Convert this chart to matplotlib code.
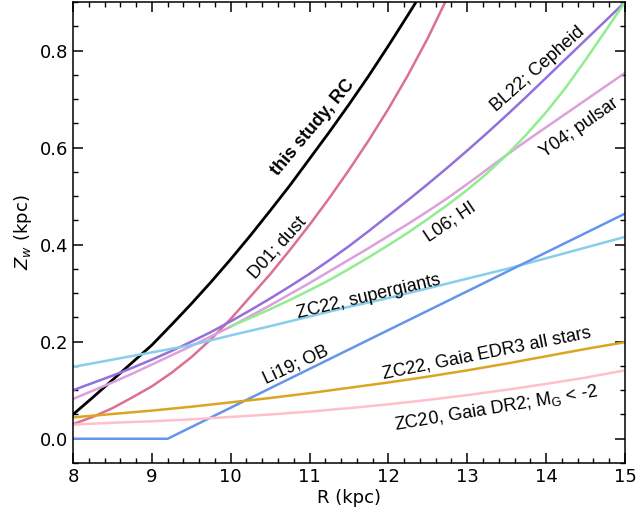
import numpy as np
import matplotlib
matplotlib.use("Agg")
import matplotlib.pyplot as plt
from matplotlib.ticker import MultipleLocator, FormatStrFormatter

# warp amplitude Z_w (kpc) vs galactocentric radius R (kpc)
R_q = [8.0, 8.25, 8.5, 8.75, 9.0, 9.25, 9.5, 9.75, 10.0, 10.25, 10.5, 10.75, 11.0, 11.25,
       11.5, 11.75, 12.0, 12.25, 12.5, 12.75, 13.0, 13.25, 13.5, 13.75, 14.0, 14.25,
       14.5, 14.75, 15.0]
R_h = [8.0, 8.5, 9.0, 9.5, 10.0, 10.5, 11.0, 11.5, 12.0, 12.5, 13.0, 13.5, 14.0, 14.5, 15.0]

rc_R = [8.0, 8.25, 8.5, 8.75, 9.0, 9.25, 9.5, 9.75, 10.0, 10.25, 10.5, 10.75, 11.0, 11.25,
        11.5, 11.75, 12.0, 12.25, 12.35]
rc_Z = [0.050, 0.085, 0.121, 0.157, 0.193, 0.235, 0.278, 0.323, 0.370, 0.419, 0.470, 0.522,
        0.577, 0.632, 0.689, 0.748, 0.810, 0.874, 0.900]

d01_R = [8.0, 8.25, 8.5, 8.75, 9.0, 9.25, 9.5, 9.75, 10.0, 10.25, 10.5, 10.75, 11.0, 11.25,
         11.5, 11.75, 12.0, 12.25, 12.5, 12.75]
d01_Z = [0.030, 0.045, 0.063, 0.085, 0.108, 0.136, 0.168, 0.205, 0.247, 0.293, 0.339, 0.389,
         0.441, 0.496, 0.554, 0.615, 0.680, 0.750, 0.826, 0.910]

bl22_Z = [0.100, 0.115, 0.130, 0.146, 0.163, 0.181, 0.200, 0.220, 0.242, 0.265, 0.289, 0.314,
          0.340, 0.368, 0.397, 0.428, 0.460, 0.492, 0.525, 0.559, 0.594, 0.630, 0.667, 0.705,
          0.744, 0.783, 0.822, 0.861, 0.900]

y04_Z = [0.082, 0.099, 0.116, 0.134, 0.153, 0.172, 0.191, 0.211, 0.231, 0.253, 0.275, 0.298,
         0.321, 0.345, 0.369, 0.393, 0.418, 0.443, 0.469, 0.496, 0.525, 0.555, 0.585, 0.614,
         0.642, 0.670, 0.698, 0.726, 0.754]

l06_R = [10.0, 10.25, 10.5, 10.75, 11.0, 11.25, 11.5, 11.75, 12.0, 12.25, 12.5, 12.75, 13.0,
         13.25, 13.5, 13.75, 14.0, 14.25, 14.5, 14.75, 15.0]
l06_Z = [0.232, 0.249, 0.267, 0.286, 0.306, 0.327, 0.350, 0.374, 0.399, 0.425, 0.453, 0.482,
         0.513, 0.547, 0.585, 0.627, 0.673, 0.724, 0.781, 0.840, 0.900]

zc22sg_Z = [0.148, 0.163, 0.178, 0.193, 0.213, 0.232, 0.252, 0.272, 0.29, 0.31, 0.33, 0.35,
            0.372, 0.394, 0.416]

li19_R = [8.0, 9.2, 15.0]
li19_Z = [0.0, 0.0, 0.464]

zc22_Z = [0.044, 0.051, 0.058, 0.066, 0.075, 0.084, 0.094, 0.105, 0.116, 0.128, 0.141, 0.155,
          0.17, 0.185, 0.199]
zc20_Z = [0.029, 0.033, 0.036, 0.04, 0.045, 0.05, 0.056, 0.063, 0.071, 0.08, 0.09, 0.101,
          0.113, 0.126, 0.141]

fig = plt.figure(figsize=(6.38, 5.2), dpi=100)
ax = fig.add_axes([0.1144, 0.1096, 0.8652, 0.8864])

lw = 1.8
ax.plot(rc_R, rc_Z, color="black", lw=2.0)
ax.plot(d01_R, d01_Z, color="palevioletred", lw=lw)
ax.plot(R_q, bl22_Z, color="mediumpurple", lw=lw)
ax.plot(R_q, y04_Z, color="plum", lw=lw)
ax.plot(l06_R, l06_Z, color="lightgreen", lw=lw)
ax.plot(R_h, zc22sg_Z, color="skyblue", lw=lw)
ax.plot(li19_R, li19_Z, color="cornflowerblue", lw=lw)
ax.plot(R_h, zc22_Z, color="goldenrod", lw=lw)
ax.plot(R_h, zc20_Z, color="pink", lw=lw)

# curve labels
lab = dict(ha="center", va="center", rotation_mode="anchor",
           fontsize=13, family="Liberation Sans")
ax.text(11.04, 0.641, "this study, RC", rotation=50, fontweight="bold", **lab)
ax.text(10.59, 0.394, "D01; dust", rotation=48, **lab)
ax.text(13.90, 0.761, "BL22; Cepheid", rotation=41.6, **lab)
ax.text(14.42, 0.641, "Y04; pulsar", rotation=35, **lab)
ax.text(12.78, 0.447, "L06; HI", rotation=34, **lab)
ax.text(11.75, 0.293, "ZC22, supergiants", rotation=13.3, **lab)
ax.text(10.83, 0.153, "Li19; OB", rotation=25, **lab)
ax.text(13.24, 0.175, "ZC22, Gaia EDR3 all stars", rotation=11.3, **lab)
ax.text(13.36, 0.064, r"ZC20, Gaia DR2; M$_\mathregular{G}$ < -2", rotation=9.5, **lab)

ax.set_xlim(8, 15)
ax.set_ylim(-0.05, 0.9)
ax.xaxis.set_major_locator(MultipleLocator(1))
ax.xaxis.set_minor_locator(MultipleLocator(0.2))
ax.yaxis.set_major_locator(MultipleLocator(0.2))
ax.yaxis.set_minor_locator(MultipleLocator(0.05))
ax.yaxis.set_major_formatter(FormatStrFormatter("%.1f"))
ax.tick_params(which="both", direction="in", top=True, right=True, labelsize=13)
ax.tick_params(which="major", length=7, width=1.1)
ax.tick_params(which="minor", length=3.5, width=1.0)
for s in ax.spines.values():
    s.set_linewidth(1.1)

ax.set_xlabel("R (kpc)", fontsize=13, labelpad=2)
ax.set_ylabel(r"$Z_w$ (kpc)", fontsize=13, labelpad=4)

fig.savefig("out.png", dpi=100)
